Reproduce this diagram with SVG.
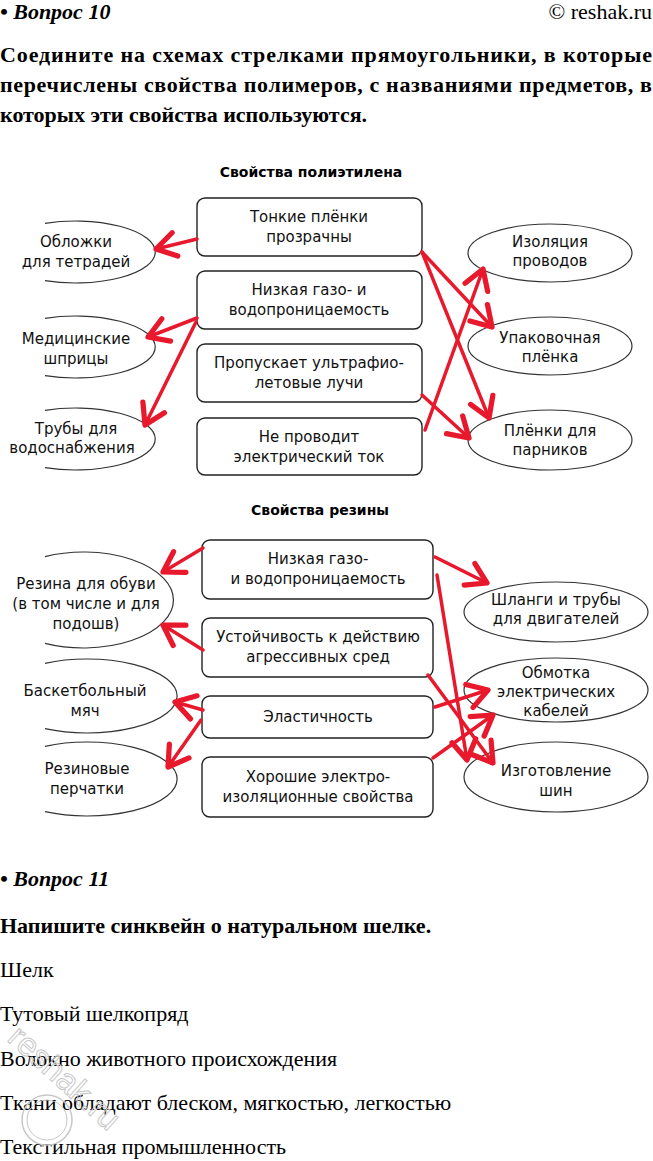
<svg xmlns="http://www.w3.org/2000/svg" width="653" height="1161" viewBox="0 0 653 1161">
<defs>
<marker id="ah" markerUnits="userSpaceOnUse" markerWidth="30" markerHeight="30" viewBox="-16 -10 20 20" refX="0" refY="0" orient="auto">
<path d="M-13,-8 L0,0 L-13,8" fill="none" stroke="#e8192c" stroke-width="3.5" stroke-linecap="round" stroke-linejoin="round"/>
</marker>
</defs>
<style>
.serif{font-family:"Liberation Serif","Times New Roman",serif;font-size:22px;fill:#000}
.b{font-weight:bold}
.bi{font-weight:bold;font-style:italic}
.t{font-family:"DejaVu Sans","Liberation Sans",sans-serif;font-size:15px;fill:#111;text-anchor:middle}
.title{font-family:"DejaVu Sans","Liberation Sans",sans-serif;font-size:14px;font-weight:bold;fill:#000;text-anchor:middle}
.box{fill:#fff;stroke:#222;stroke-width:1.4}
.ell{fill:none;stroke:#333;stroke-width:1.2}
.arr{stroke:#e8192c;stroke-width:3.5;fill:none;stroke-linecap:round;marker-end:url(#ah)}
.wm{font-family:"Liberation Sans",sans-serif;fill:none;stroke:#c8c8c8;stroke-width:1}
</style>
<rect width="653" height="1161" fill="#fff"/>

<g id="header">
<text class="serif bi" x="0" y="19">• Вопрос 10</text>
<text class="serif" x="652" y="19" text-anchor="end">© reshak.ru</text>
<text class="serif b" x="0" y="62" textLength="652" lengthAdjust="spacing">Соедините на схемах стрелками прямоугольники, в которые</text>
<text class="serif b" x="0" y="92" textLength="652" lengthAdjust="spacing">перечислены свойства полимеров, с названиями предметов, в</text>
<text class="serif b" x="0" y="122">которых эти свойства используются.</text>
</g>

<g id="pe-title"><text class="title" x="311" y="177">Свойства полиэтилена</text></g>

<g id="pe-box1"><rect class="box" x="197" y="198" width="225" height="58" rx="8"/><text class="t" x="309" y="222">Тонкие плёнки</text><text class="t" x="309" y="242">прозрачны</text></g>
<g id="pe-box2"><rect class="box" x="197" y="271" width="225" height="58" rx="8"/><text class="t" x="309" y="295">Низкая газо- и</text><text class="t" x="309" y="315">водопроницаемость</text></g>
<g id="pe-box3"><rect class="box" x="197" y="344" width="225" height="58" rx="8"/><text class="t" x="309" y="368">Пропускает ультрафио-</text><text class="t" x="309" y="388">летовые лучи</text></g>
<g id="pe-box4"><rect class="box" x="197" y="418" width="225" height="57" rx="8"/><text class="t" x="309" y="442">Не проводит</text><text class="t" x="309" y="462">электрический ток</text></g>

<g id="pe-left1"><path class="ell" d="M45,223.3 A80,31 0 1 1 45,280.7"/><text class="t" x="76" y="247">Обложки</text><text class="t" x="76" y="267">для тетрадей</text></g>
<g id="pe-left2"><path class="ell" d="M45,318.3 A80,31 0 1 1 45,375.7"/><text class="t" x="76" y="344">Медицинские</text><text class="t" x="76" y="364">шприцы</text></g>
<g id="pe-left3"><path class="ell" d="M45,410.3 A80,31 0 1 1 45,467.7"/><text class="t" x="76" y="434">Трубы для</text><text class="t" x="72" y="453">водоснабжения</text></g>

<g id="pe-right1"><ellipse class="ell" cx="550" cy="253" rx="82" ry="29"/><text class="t" x="550" y="247">Изоляция</text><text class="t" x="550" y="266">проводов</text></g>
<g id="pe-right2"><ellipse class="ell" cx="550" cy="346" rx="82" ry="29"/><text class="t" x="550" y="343">Упаковочная</text><text class="t" x="550" y="362">плёнка</text></g>
<g id="pe-right3"><ellipse class="ell" cx="550" cy="440" rx="82" ry="30"/><text class="t" x="550" y="436">Плёнки для</text><text class="t" x="550" y="455">парников</text></g>

<g id="rb-title"><text class="title" x="320" y="515">Свойства резины</text></g>

<g id="rb-box1"><rect class="box" x="202" y="540" width="231" height="59" rx="8"/><text class="t" x="318" y="564">Низкая газо-</text><text class="t" x="318" y="584">и водопроницаемость</text></g>
<g id="rb-box2"><rect class="box" x="202" y="618" width="231" height="59" rx="8"/><text class="t" x="318" y="642">Устойчивость к действию</text><text class="t" x="318" y="662">агрессивных сред</text></g>
<g id="rb-box3"><rect class="box" x="202" y="696" width="231" height="42" rx="8"/><text class="t" x="318" y="722">Эластичность</text></g>
<g id="rb-box4"><rect class="box" x="202" y="757" width="231" height="60" rx="8"/><text class="t" x="318" y="782">Хорошие электро-</text><text class="t" x="318" y="802">изоляционные свойства</text></g>

<g id="rb-left1"><path class="ell" d="M45,556.6 A90,48 0 1 1 45,643.4"/><text class="t" x="86" y="589">Резина для обуви</text><text class="t" x="86" y="609">(в том числе и для</text><text class="t" x="86" y="629">подошв)</text></g>
<g id="rb-left2"><path class="ell" d="M45,663.3 A90,37 0 1 1 45,728.7"/><text class="t" x="85" y="696">Баскетбольный</text><text class="t" x="85" y="716">мяч</text></g>
<g id="rb-left3"><path class="ell" d="M45,746.3 A90,37 0 1 1 45,811.7"/><text class="t" x="87" y="774">Резиновые</text><text class="t" x="87" y="794">перчатки</text></g>

<g id="rb-right1"><ellipse class="ell" cx="556" cy="612" rx="92" ry="30"/><text class="t" x="556" y="605">Шланги и трубы</text><text class="t" x="556" y="624">для двигателей</text></g>
<g id="rb-right2"><ellipse class="ell" cx="556" cy="690" rx="92" ry="32"/><text class="t" x="556" y="678">Обмотка</text><text class="t" x="556" y="697">электрических</text><text class="t" x="556" y="716">кабелей</text></g>
<g id="rb-right3"><ellipse class="ell" cx="556" cy="777" rx="92" ry="35"/><text class="t" x="556" y="776">Изготовление</text><text class="t" x="556" y="796">шин</text></g>

<g id="connectors">
<line class="arr" x1="197" y1="239" x2="156" y2="249"/>
<line class="arr" x1="197" y1="318" x2="148" y2="337"/>
<line class="arr" x1="196" y1="322" x2="145" y2="425"/>
<line class="arr" x1="422" y1="252" x2="492" y2="327"/>
<line class="arr" x1="422" y1="252" x2="489" y2="418"/>
<line class="arr" x1="422" y1="395" x2="469" y2="438"/>
<line class="arr" x1="425" y1="430" x2="483" y2="269"/>
<line class="arr" x1="203" y1="548" x2="163" y2="572"/>
<line class="arr" x1="203" y1="650" x2="163" y2="625"/>
<line class="arr" x1="203" y1="710" x2="175" y2="702"/>
<line class="arr" x1="201" y1="720" x2="168" y2="767"/>
<line class="arr" x1="435" y1="557" x2="487" y2="583"/>
<line class="arr" x1="437" y1="575" x2="467" y2="760"/>
<line class="arr" x1="428" y1="675" x2="493" y2="763"/>
<line class="arr" x1="435" y1="707" x2="488" y2="690"/>
<line class="arr" x1="433" y1="758" x2="493" y2="715"/>
</g>

<g id="question11">
<text class="serif bi" x="0" y="886">• Вопрос 11</text>
<text class="serif b" x="0" y="933">Напишите синквейн о натуральном шелке.</text>
<text class="serif" x="0" y="977">Шелк</text>
<text class="serif" x="0" y="1021">Тутовый шелкопряд</text>
<text class="serif" x="0" y="1066">Волокно животного происхождения</text>
<text class="serif" x="0" y="1110">Ткани обладают блеском, мягкостью, легкостью</text>
<text class="serif" x="0" y="1154">Текстильная промышленность</text>
</g>

<g id="watermark">
<text class="wm" x="0" y="0" font-size="33" transform="translate(6,1040) rotate(42)">reshak.ru</text>
<circle cx="47" cy="1120" r="25" fill="none" stroke="#c8c8c8" stroke-width="1.5"/>
<circle cx="47" cy="1120" r="20" fill="none" stroke="#c8c8c8" stroke-width="1"/>
</g>
</svg>
